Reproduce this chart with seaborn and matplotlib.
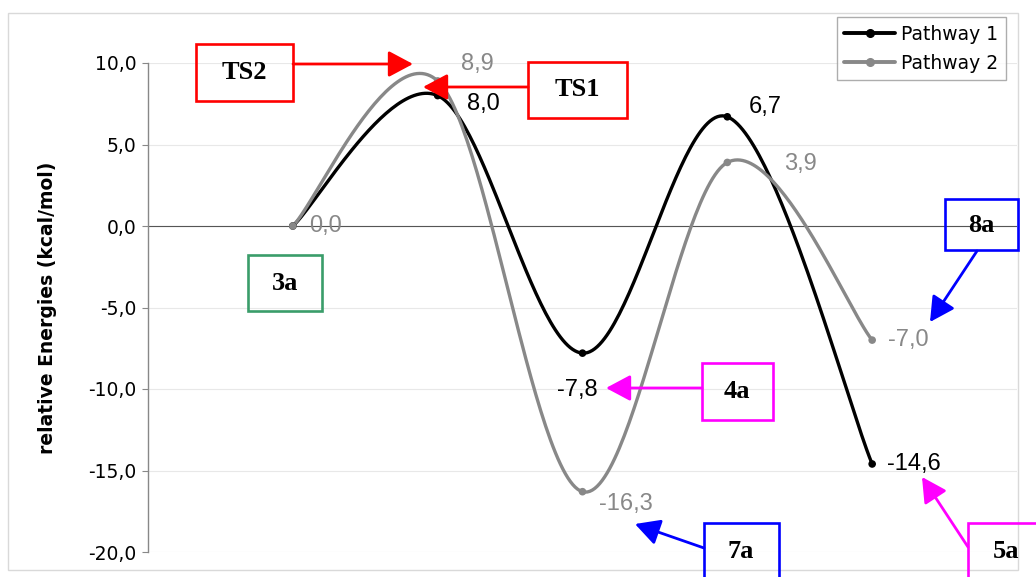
import numpy as np
import pandas as pd
import matplotlib.pyplot as plt
from matplotlib.lines import Line2D
from matplotlib.patches import Rectangle, FancyArrowPatch
import seaborn as sns

# energies (kcal/mol) at the 5 stationary points, category slots 1..5
steps = [1, 2, 3, 4, 5]
pathway1 = [0.0, 8.0, -7.8, 6.7, -14.6]
pathway2 = [0.0, 8.9, -16.3, 3.9, -7.0]
names = ["Pathway 1", "Pathway 2"]
yticks = [-20, -15, -10, -5, 0, 5, 10]

colors = ["#000000", "#888888"]
W, H = 1036, 577


def smooth(xs, ys, n=60):
    # Excel-like smoothed line: cubic bezier with catmull-rom tangents
    p = np.column_stack([xs, ys]).astype(float)
    ext = np.vstack([p[0], p, p[-1]])
    t = np.linspace(0, 1, n)[:, None]
    segs = []
    for i in range(len(p) - 1):
        p0, p1 = ext[i + 1], ext[i + 2]
        c1 = p0 + (ext[i + 2] - ext[i]) / 6
        c2 = p1 - (ext[i + 3] - ext[i + 1]) / 6
        seg = ((1 - t) ** 3 * p0 + 3 * (1 - t) ** 2 * t * c1
               + 3 * (1 - t) * t ** 2 * c2 + t ** 3 * p1)
        segs.append(seg if i == 0 else seg[1:])
    return np.vstack(segs)


def fig_xy(x, y):
    # pixel position (from top-left) -> figure fraction
    return (x / W, 1 - y / H)


curves = []
points = []
for name, vals in zip(names, [pathway1, pathway2]):
    s = smooth(steps, vals)
    curves.append(pd.DataFrame({"x": s[:, 0], "y": s[:, 1], "pathway": name}))
    points.append(pd.DataFrame({"x": steps, "y": vals, "pathway": name}))
curves = pd.concat(curves, ignore_index=True)
points = pd.concat(points, ignore_index=True)

sns.set_style("white")
plt.rcParams["font.family"] = ["DejaVu Sans"]
plt.rcParams["text.color"] = "black"
plt.rcParams["axes.labelcolor"] = "black"

fig = plt.figure(figsize=(W / 100, H / 100), dpi=100)
ax = fig.add_axes([148 / W, 1 - 552 / H, (1017 - 148) / W, (552 - 63) / H])

# outer chart frame
fig.add_artist(Rectangle(fig_xy(8, 570), (1018 - 8) / W, (570 - 13) / H,
                         transform=fig.transFigure, fill=False,
                         ec="#d9d9d9", lw=1))

pal = dict(zip(names, colors))
sns.lineplot(data=curves, x="x", y="y", hue="pathway", palette=pal,
             sort=False, estimator=None, lw=2.4, legend=False, ax=ax,
             zorder=3)
sns.scatterplot(data=points, x="x", y="y", hue="pathway", palette=pal,
                s=30, edgecolor="none", legend=False, ax=ax, zorder=4)

ax.set_xlim(0, 6)
ax.set_ylim(-20, 10)
ax.set_xticks([])
ax.set_yticks(yticks)
ax.set_yticklabels([f"{v:.1f}".replace(".", ",") for v in yticks])
ax.yaxis.grid(True, color="#e8e8e8", lw=0.8)
ax.set_axisbelow(True)
ax.axhline(0, color="#555555", lw=0.8, zorder=2)
for side in ["top", "right", "bottom"]:
    ax.spines[side].set_visible(False)
ax.spines["left"].set_color("#888888")
ax.spines["left"].set_linewidth(1)
ax.tick_params(axis="y", direction="out", left=True, length=4.5, width=0.8,
               color="#888888", pad=4, labelsize=13.5, labelcolor="#000000")
ax.set_xlabel("")
ax.set_ylabel("relative Energies (kcal/mol)", fontsize=13.5,
              fontweight="bold", color="black")
ax.yaxis.set_label_coords(-0.105, 0.5)

# data labels (offsets in pixels, y down)
offsets = {
    "Pathway 1": [None, (46, 8), (-5, 37), (38, -10), (42, 0)],
    "Pathway 2": [(33, 0), (40, -17), (43, 12), (73, 2), (36, 0)],
}
for name, vals, c in zip(names, [pathway1, pathway2], colors):
    for x, v, off in zip(steps, vals, offsets[name]):
        if off is None:
            continue
        ax.annotate(f"{v:.1f}".replace(".", ","), xy=(x, v),
                    xytext=(off[0] * 0.72, -off[1] * 0.72),
                    textcoords="offset points", ha="center", va="center",
                    fontsize=17, color=c, family="Liberation Sans",
                    annotation_clip=False)

handles = [Line2D([0], [0], color=c, lw=2.8, marker="o", ms=5.5)
           for c in colors]
leg = ax.legend(handles, names, loc="upper right",
                bbox_to_anchor=fig_xy(1006, 17),
                bbox_transform=fig.transFigure, borderaxespad=0,
                fontsize=13.5, frameon=True, fancybox=False,
                handlelength=2.7, handletextpad=0.35, labelspacing=0.55,
                borderpad=0.4, labelcolor="black")
leg.get_frame().set_edgecolor("#999999")
leg.get_frame().set_linewidth(1)

# labelled boxes and arrows
red, green, magenta, blue = "#ff0000", "#3a9d6a", "#ff00ff", "#0000ff"
boxes = [
    ("TS2", (196, 44, 293, 101), (244, 72), red),
    ("TS1", (528, 62, 627, 118), (577, 90), red),
    ("3a", (248, 255, 322, 311), (285, 283), green),
    ("4a", (702, 363, 773, 420), (737, 392), magenta),
    ("7a", (704, 523, 779, 610), (741, 552), blue),
    ("8a", (945, 199, 1018, 250), (981, 226), blue),
    ("5a", (968, 523, 1060, 610), (1006, 552), magenta),
]
for text, (x0, y0, x1, y1), (tx, ty), c in boxes:
    fig.add_artist(Rectangle(fig_xy(x0, y1), (x1 - x0) / W, (y1 - y0) / H,
                             transform=fig.transFigure, fill=False,
                             ec=c, lw=1.9, zorder=5))
    fig.text(*fig_xy(tx, ty), text, ha="center", va="center", fontsize=19,
             fontweight="bold", family="Liberation Serif", color="black",
             zorder=6)

arrows = [
    ((293, 64), (413, 64), red),
    ((528, 87), (423, 87), red),
    ((702, 388), (606, 388), magenta),
    ((704, 548), (635, 524), blue),
    ((977, 251), (930, 322), blue),
    ((968, 547), (922, 477), magenta),
]
for a, b, c in arrows:
    fig.add_artist(FancyArrowPatch(fig_xy(*a), fig_xy(*b),
                                   transform=fig.transFigure,
                                   arrowstyle="-|>,head_length=0.75,head_width=0.4",
                                   mutation_scale=20, color=c, lw=2,
                                   shrinkA=0, shrinkB=0, zorder=5))

fig.savefig("out.png", dpi=100)
